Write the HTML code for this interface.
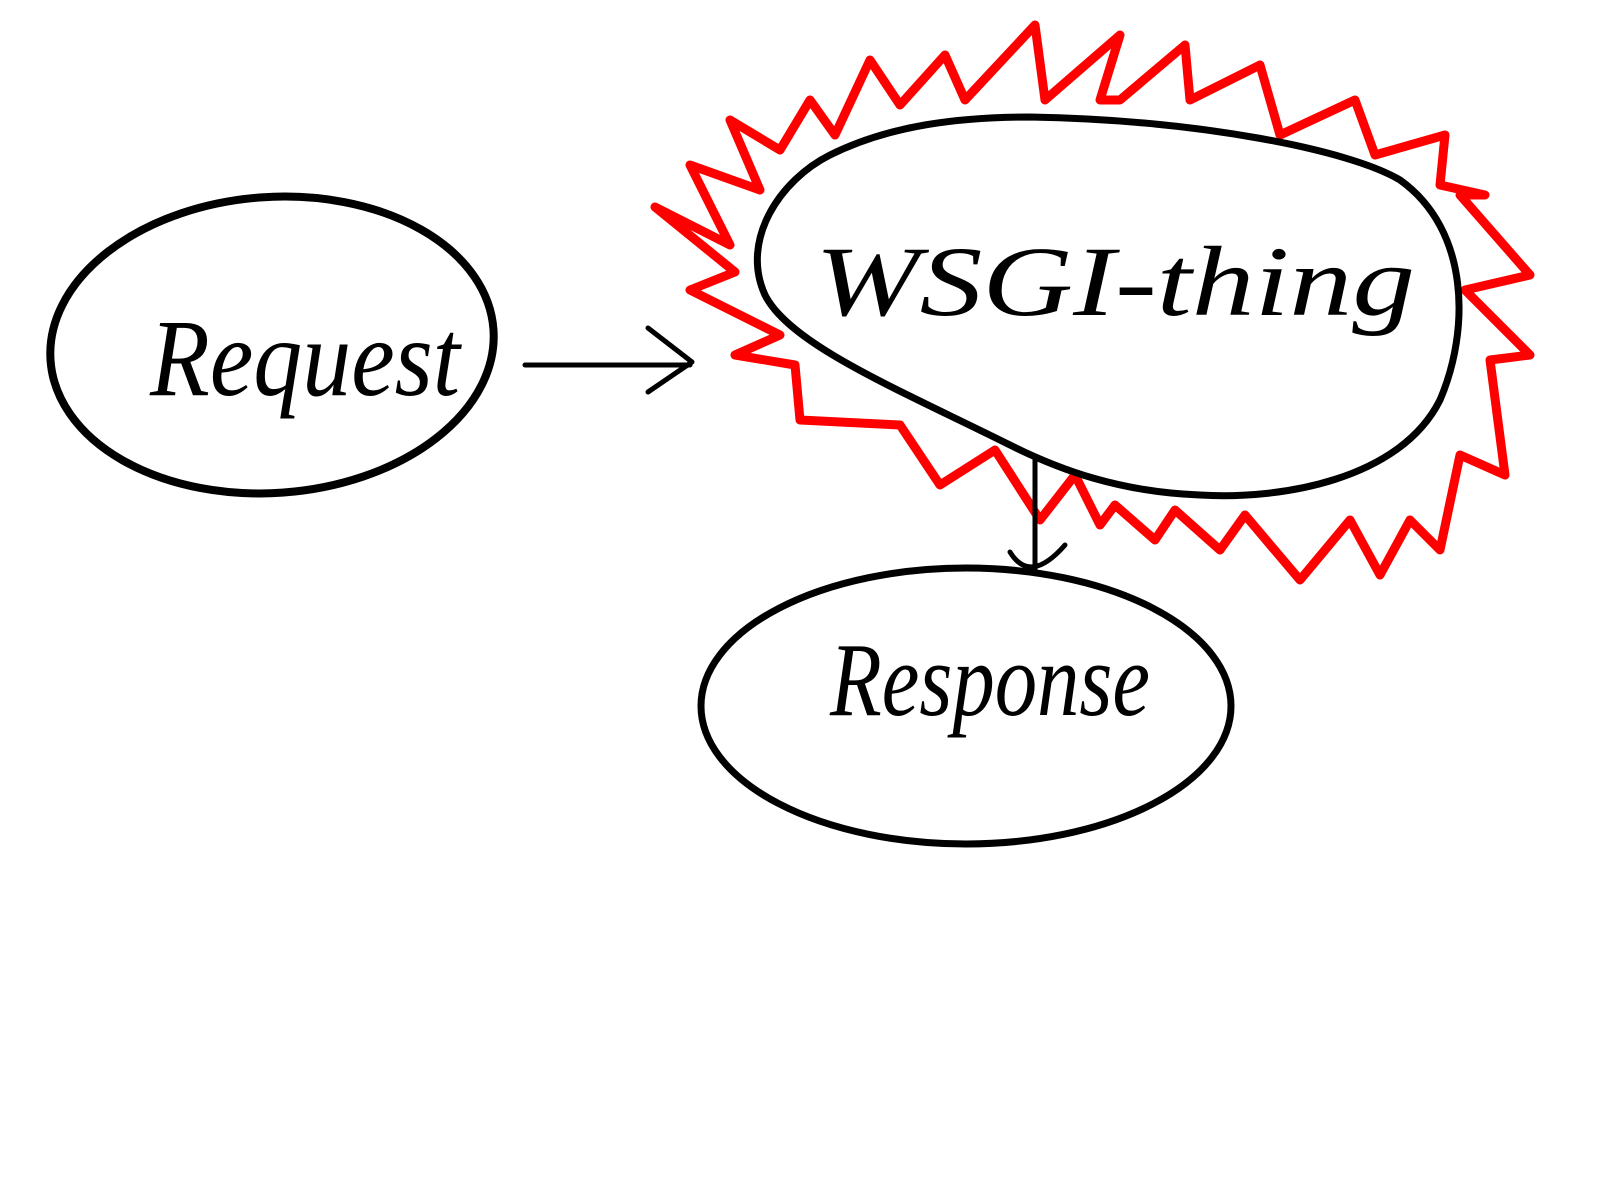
<!DOCTYPE html>
<html><head><meta charset="utf-8"><style>
html,body{margin:0;padding:0;background:#fff;width:1600px;height:1200px;overflow:hidden}
</style></head><body>
<svg width="1600" height="1200" viewBox="0 0 1600 1200" xmlns="http://www.w3.org/2000/svg">
<rect width="1600" height="1200" fill="#fff"/>
<!-- red starburst -->
<polyline fill="none" stroke="#f00" stroke-width="9" stroke-linejoin="round" stroke-linecap="round"
points="655,207 735,272 690,290 780,335 735,355 795,365 800,420 900,425 940,485 995,450 1040,520 1075,475 1100,525 1115,505 1155,540 1175,510 1220,550 1245,515 1300,580 1350,520 1380,575 1410,520 1440,550 1460,455 1505,475 1490,360 1530,355 1465,290 1530,275 1460,195 1485,195 1440,185 1445,135 1375,155 1355,100 1280,135 1260,65 1190,100 1185,45 1120,100 1100,100 1120,35 1045,100 1035,25 965,100 945,55 900,105 870,60 835,135 810,100 780,150 730,120 760,190 690,165 730,245 655,207"/>
<!-- Request ellipse -->
<ellipse cx="272" cy="345" rx="222" ry="148" fill="none" stroke="#000" stroke-width="8" transform="rotate(-4 272 345)"/>
<!-- WSGI blob -->
<path d="M1030,117 C1200,120 1350,150 1400,180 C1470,230 1470,330 1440,400 C1400,480 1280,500 1200,495 C1120,492 1060,470 1010,445 C900,390 790,345 765,295 C740,240 780,180 830,155 C890,125 960,117 1030,117 Z" fill="none" stroke="#000" stroke-width="7"/>
<!-- Response ellipse -->
<ellipse cx="966" cy="706" rx="265" ry="138" fill="none" stroke="#000" stroke-width="7"/>
<!-- arrow right -->
<path d="M525,365 L690,365 M648,328 L692,362 L648,392" fill="none" stroke="#000" stroke-width="5" stroke-linecap="round" stroke-linejoin="round"/>
<!-- arrow down -->
<path d="M1035,460 L1035,570 M1010,552 Q1030,585 1065,545" fill="none" stroke="#000" stroke-width="5" stroke-linecap="round"/>
<g font-family="'Liberation Serif', serif" font-style="italic" fill="#000">
<text x="150" y="395" font-size="110" textLength="310" lengthAdjust="spacingAndGlyphs">Request</text>
<text x="815" y="315" font-size="100" textLength="600" lengthAdjust="spacingAndGlyphs">WSGI-thing</text>
<text x="830" y="715" font-size="105" textLength="320" lengthAdjust="spacingAndGlyphs">Response</text>
</g>
</svg>
</body></html>
